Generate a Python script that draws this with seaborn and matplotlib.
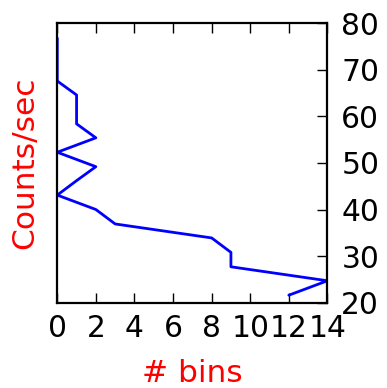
import matplotlib
matplotlib.use("Agg")
import matplotlib.pyplot as plt
import seaborn as sns
import pandas as pd

# Count rate per bin centre (counts/sec) and the number of bins at that rate
rate = [21.6, 24.7, 27.7, 30.8, 33.9, 36.9, 40.0, 43.1, 46.2, 49.2,
        52.3, 55.4, 58.4, 61.5, 64.6, 67.6, 70.7, 73.8, 76.8]
nbins = [12, 14, 9, 9, 8, 3, 2, 0, 1, 2, 0, 2, 1, 1, 1, 0, 0, 0, 0]

x_ticks = [0, 2, 4, 6, 8, 10, 12, 14]
y_ticks = [20, 30, 40, 50, 60, 70, 80]

sns.set_style("white")
plt.rcParams["font.family"] = ["DejaVu Sans"]

df = pd.DataFrame({"bins": nbins, "rate": rate})

fig = plt.figure(figsize=(3.87, 3.88), dpi=100)
ax = fig.add_axes([0.148, 0.22, 0.698, 0.72])

sns.lineplot(data=df, x="bins", y="rate", sort=False, estimator=None,
             color="#0000ff", linewidth=2.0, ax=ax)

ax.set_xlim(0, 14)
ax.set_ylim(20, 80)
ax.set_xticks(x_ticks)
ax.set_yticks(y_ticks)
ax.set_xticklabels([str(t) for t in x_ticks])
ax.set_yticklabels([str(t) for t in y_ticks])

ax.yaxis.tick_right()
ax.yaxis.set_label_position("left")
ax.tick_params(axis="x", direction="in", top=True, bottom=True, length=7,
               width=1, labelsize=21.4, pad=8, colors="black")
ax.tick_params(axis="y", direction="in", right=True, left=False, length=7,
               width=1, labelsize=21.4, pad=10, colors="black")

for spine in ax.spines.values():
    spine.set_visible(True)
    spine.set_color("black")
    spine.set_linewidth(1.6)

ax.set_xlabel("# bins", color="red", fontsize=22.5, labelpad=11.5)
ax.set_ylabel("Counts/sec", color="red", fontsize=22.5, labelpad=13)

fig.savefig("out.png", dpi=100)
